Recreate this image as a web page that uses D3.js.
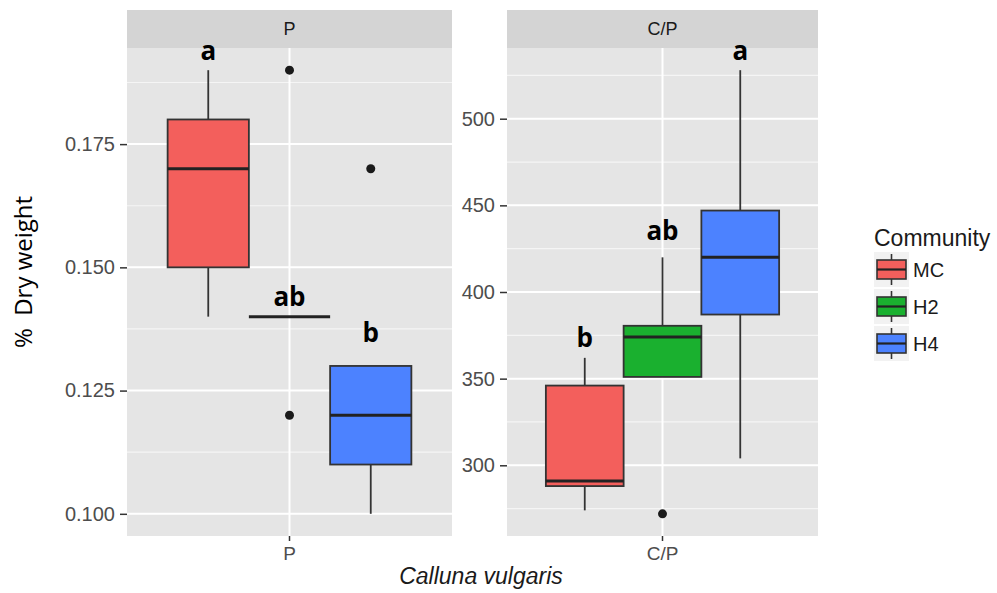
<!DOCTYPE html>
<html>
<head>
<meta charset="utf-8">
<script src="https://cdn.jsdelivr.net/npm/d3@7"></script>
<style>
  body { margin: 0; background: #fff; }
  svg { display: block; }
</style>
</head>
<body>
<svg id="chart" width="997" height="593"></svg>
<script>
// ---- data ----
const facets = ["P", "C/P"];
const groups = ["MC", "H2", "H4"];
const groupColors = ["#F35F5C", "#1AB02F", "#4C82FF"];

// P facet (% dry weight)
const pLower  = [0.140, 0.140, 0.100];
const pQ1     = [0.150, 0.140, 0.110];
const pMedian = [0.170, 0.140, 0.120];
const pQ3     = [0.180, 0.140, 0.130];
const pUpper  = [0.190, 0.140, 0.130];
const pOutliers = [[], [0.190, 0.120], [0.170]];
const pLetters = ["a", "ab", "b"];
const pLetterY = [0.1921, 0.1422, 0.1349];
const pTicks = [0.100, 0.125, 0.150, 0.175];

// C/P facet
const cpLower  = [274, 351, 304];
const cpQ1     = [288, 351, 387];
const cpMedian = [291, 374, 420];
const cpQ3     = [346, 380.5, 447];
const cpUpper  = [362, 420, 528];
const cpOutliers = [[], [272], []];
const cpLetters = ["b", "ab", "a"];
const cpLetterY = [368, 430, 534];
const cpTicks = [300, 350, 400, 450, 500];

const xTitle = "Calluna vulgaris";
const yTitle = "%  Dry weight";
const legendTitle = "Community";

// ---- layout ----
const svg = d3.select("#chart");
const panelTop = 48, panelBottom = 536, stripTop = 10;
const panels = [
  { name: facets[0], x0: 127, x1: 452, lower: pLower, q1: pQ1, med: pMedian, q3: pQ3, upper: pUpper,
    out: pOutliers, letters: pLetters, letterY: pLetterY, ticks: pTicks, fmt: d3.format(".3f") },
  { name: facets[1], x0: 507, x1: 818, lower: cpLower, q1: cpQ1, med: cpMedian, q3: cpQ3, upper: cpUpper,
    out: cpOutliers, letters: cpLetters, letterY: cpLetterY, ticks: cpTicks, fmt: d3.format("d") }
];

const color = d3.scaleOrdinal().domain(groups).range(groupColors);
const fontSans = "'Liberation Sans', Arial, sans-serif";

panels.forEach(p => {
  const w = p.x1 - p.x0;
  const allVals = p.lower.concat(p.upper, ...p.out);
  const mn = d3.min(allVals), mx = d3.max(allVals);
  const pad = (mx - mn) * 0.05;
  const y = d3.scaleLinear().domain([mn - pad, mx + pad]).range([panelBottom, panelTop]);
  const xCat = d3.scaleBand().domain([p.name]).range([p.x0, p.x1]);
  const xg = d3.scaleBand().domain(groups).range([p.x0 + 0.125 * w, p.x1 - 0.125 * w]);

  const g = svg.append("g");
  // strip
  g.append("rect").attr("x", p.x0).attr("y", stripTop).attr("width", w).attr("height", panelTop - stripTop)
    .attr("fill", "#D4D4D4");
  g.append("text").attr("x", xCat(p.name) + xCat.bandwidth() / 2).attr("y", (stripTop + panelTop) / 2)
    .attr("dy", "0.36em").attr("text-anchor", "middle")
    .style("font-family", fontSans).style("font-size", "18px").attr("fill", "#1A1A1A").text(p.name);
  // panel
  g.append("rect").attr("x", p.x0).attr("y", panelTop).attr("width", w).attr("height", panelBottom - panelTop)
    .attr("fill", "#E5E5E5");
  // minor gridlines
  const step = p.ticks[1] - p.ticks[0];
  const minor = [];
  for (let i = -1; i < p.ticks.length; i++) {
    const v = p.ticks[0] + (i + 0.5) * step;
    if (y(v) > panelTop && y(v) < panelBottom) minor.push(v);
  }
  g.selectAll(".minor").data(minor).enter().append("line")
    .attr("x1", p.x0).attr("x2", p.x1).attr("y1", d => y(d)).attr("y2", d => y(d))
    .attr("stroke", "#F5F5F5").attr("stroke-width", 1.2);
  g.selectAll(".major").data(p.ticks).enter().append("line")
    .attr("x1", p.x0).attr("x2", p.x1).attr("y1", d => y(d)).attr("y2", d => y(d))
    .attr("stroke", "#FFFFFF").attr("stroke-width", 2);
  const cx = xCat(p.name) + xCat.bandwidth() / 2;
  g.append("line").attr("x1", cx).attr("x2", cx).attr("y1", panelTop).attr("y2", panelBottom)
    .attr("stroke", "#FFFFFF").attr("stroke-width", 2);

  // y axis
  const ya = svg.append("g").attr("transform", `translate(${p.x0},0)`)
    .call(d3.axisLeft(y).tickValues(p.ticks).tickFormat(p.fmt).tickSize(7).tickPadding(5));
  ya.select(".domain").remove();
  ya.selectAll(".tick line").attr("stroke", "#333333").attr("stroke-width", 1.5);
  ya.selectAll(".tick text").attr("fill", "#4D4D4D").style("font-family", fontSans).style("font-size", "20px");

  // x axis
  const xa = svg.append("g").attr("transform", `translate(0,${panelBottom})`)
    .call(d3.axisBottom(xCat).tickSize(5).tickPadding(6));
  xa.select(".domain").remove();
  xa.selectAll(".tick line").attr("stroke", "#333333").attr("stroke-width", 1.5);
  xa.selectAll(".tick text").attr("fill", "#4D4D4D").style("font-family", fontSans).style("font-size", "19px");

  // boxes
  groups.forEach((grp, i) => {
    const bx = xg(grp), bw = xg.bandwidth(), mid = bx + bw / 2;
    const bg = svg.append("g");
    bg.append("line").attr("x1", mid).attr("x2", mid).attr("y1", y(p.q3[i])).attr("y2", y(p.upper[i]))
      .attr("stroke", "#333333").attr("stroke-width", 1.8);
    bg.append("line").attr("x1", mid).attr("x2", mid).attr("y1", y(p.q1[i])).attr("y2", y(p.lower[i]))
      .attr("stroke", "#333333").attr("stroke-width", 1.8);
    bg.append("rect").attr("x", bx).attr("y", y(p.q3[i])).attr("width", bw)
      .attr("height", Math.max(0, y(p.q1[i]) - y(p.q3[i])))
      .attr("fill", color(grp)).attr("stroke", "#333333").attr("stroke-width", 1.8);
    bg.append("line").attr("x1", bx).attr("x2", bx + bw).attr("y1", y(p.med[i])).attr("y2", y(p.med[i]))
      .attr("stroke", "#222222").attr("stroke-width", 3);
    bg.selectAll(".out").data(p.out[i]).enter().append("circle")
      .attr("cx", mid).attr("cy", d => y(d)).attr("r", 4.5).attr("fill", "#1A1A1A");
    svg.append("text").attr("x", mid).attr("y", y(p.letterY[i])).attr("text-anchor", "middle")
      .style("font-family", "'Open Sans', 'DejaVu Sans', sans-serif").style("font-weight", "bold")
      .style("font-size", "26px").attr("fill", "#000").text(p.letters[i]);
  });
});

// axis titles
svg.append("text").attr("x", 481).attr("y", 584).attr("text-anchor", "middle")
  .style("font-family", fontSans).style("font-style", "italic").style("font-size", "23px")
  .attr("fill", "#1A1A1A").text(xTitle);
svg.append("text").attr("transform", "translate(32,272) rotate(-90)").attr("text-anchor", "middle")
  .style("font-family", "'Open Sans', sans-serif").style("font-size", "24px").style("white-space", "pre")
  .attr("fill", "#000").text(yTitle);

// legend
const lg = svg.append("g");
lg.append("text").attr("x", 874).attr("y", 246)
  .style("font-family", fontSans).style("font-size", "23px").attr("fill", "#1A1A1A").text(legendTitle);
groups.forEach((grp, i) => {
  const ky = 252 + i * 37, kx = 874, ks = 35;
  lg.append("rect").attr("x", kx).attr("y", ky).attr("width", ks).attr("height", ks).attr("fill", "#F2F2F2");
  lg.append("line").attr("x1", kx + ks / 2).attr("x2", kx + ks / 2).attr("y1", ky + 2).attr("y2", ky + ks - 2)
    .attr("stroke", "#333333").attr("stroke-width", 1.6);
  lg.append("rect").attr("x", kx + 3).attr("y", ky + 8).attr("width", ks - 6).attr("height", ks - 16)
    .attr("fill", color(grp)).attr("stroke", "#333333").attr("stroke-width", 1.6);
  lg.append("line").attr("x1", kx + 3).attr("x2", kx + ks - 3).attr("y1", ky + ks / 2).attr("y2", ky + ks / 2)
    .attr("stroke", "#222222").attr("stroke-width", 2.2);
  lg.append("text").attr("x", kx + ks + 4).attr("y", ky + ks / 2).attr("dy", "0.36em")
    .style("font-family", fontSans).style("font-size", "20px").attr("fill", "#1A1A1A").text(grp);
});
</script>
</body>
</html>
